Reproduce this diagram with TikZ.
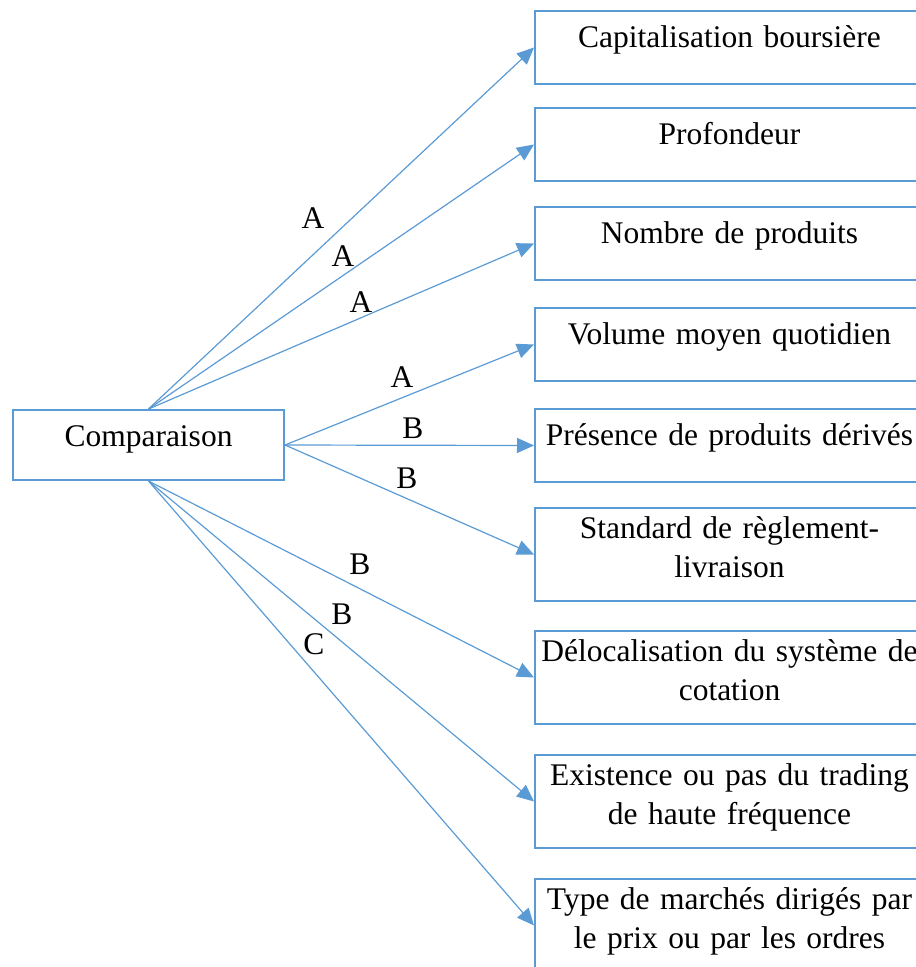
\documentclass[tikz,border=0pt]{standalone}
\usepackage{fontspec}
\setmainfont{Liberation Serif}
\usepackage{tikz}
\usetikzlibrary{arrows.meta}
\usepackage{xcolor}
\definecolor{wordblue}{RGB}{91,155,213}

\begin{document}
\begin{tikzpicture}[
  x=1pt,y=-1pt,
  font=\fontsize{31.5}{39}\selectfont,
  box/.style={draw=wordblue,line width=2pt,inner sep=0pt,align=center,
    anchor=north west},
  onebox/.style={box,text width=389pt,text height=36pt,text depth=37pt},
  twobox/.style={box,text width=389pt,text height=30pt,text depth=63pt},
  lab/.style={inner sep=0pt},
  arrow/.style={-{Triangle[length=17pt,width=15pt]},draw=wordblue,
    line width=1.2pt}
]
  \clip (0,0) rectangle (916,967);

  \node[box,text width=271pt,text height=36pt,text depth=34pt]
    (comp) at (12,409) {Comparaison};

  \node[onebox] (cap) at (534,10) {Capitalisation boursière};
  \node[onebox] (prof) at (534,107) {Profondeur};
  \node[onebox] (nbprod) at (534,206) {Nombre de produits};
  \node[onebox] (volume) at (534,307) {Volume moyen quotidien};
  \node[onebox] (derives) at (534,408) {Présence de produits dérivés};
  \node[twobox] (reglement) at (534,507) {Standard de règlement-\\livraison};
  \node[twobox] (deloc) at (534,630) {Délocalisation du système de\\cotation};
  \node[twobox] (hft) at (534,754) {Existence ou pas du trading\\de haute fréquence};
  \node[twobox] (typemarche) at (534,878) {Type de marchés dirigés par\\le prix ou par les ordres};

  \foreach \x in {cap,prof,nbprod} {
    \draw[arrow] (comp.north) -- (\x.west);
  }
  \foreach \x in {volume,derives,reglement} {
    \draw[arrow] (comp.east) -- (\x.west);
  }
  \foreach \x in {deloc,hft,typemarche} {
    \draw[arrow] (comp.south) -- (\x.west);
  }

  \node[lab] (la1) at (313,218) {A};
  \node[lab] (la2) at (343,256) {A};
  \node[lab] (la3) at (361,302) {A};
  \node[lab] (la4) at (402,377) {A};
  \node[lab] (lb5) at (413,428) {B};
  \node[lab] (lb6) at (407,478) {B};
  \node[lab] (lb7) at (360,564) {B};
  \node[lab] (lb8) at (342,614) {B};
  \node[lab] (lc9) at (314,644) {C};
\end{tikzpicture}
\end{document}
